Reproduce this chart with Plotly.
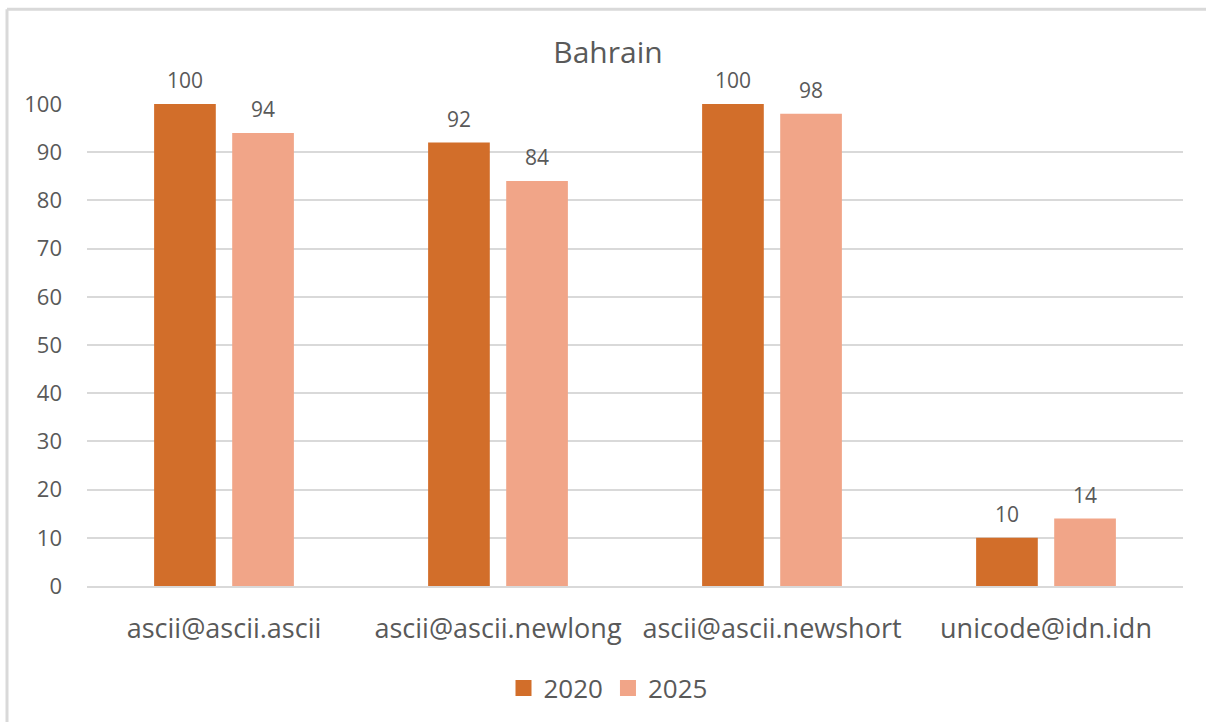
import plotly.graph_objects as go

categories = ["ascii@ascii.ascii", "ascii@ascii.newlong", "ascii@ascii.newshort", "unicode@idn.idn"]
values_2020 = [100, 92, 100, 10]
values_2025 = [94, 84, 98, 14]
series_names = ["2020", "2025"]
y_ticks = [0, 10, 20, 30, 40, 50, 60, 70, 80, 90, 100]

W, H = 1206, 722
M_L, M_R, M_T, M_B = 87, 23, 104, 135
plot_w = W - M_L - M_R
plot_h = H - M_T - M_B

FONT = "Open Sans"
TEXT = "#595959"
GRID = "#D9D9D9"
BAR_OFFSET = 39  # half the distance between the two bars of a group, in px

fig = go.Figure()
series = [
    (series_names[0], values_2020, "#D26E2A", -BAR_OFFSET),
    (series_names[1], values_2025, "#F1A588", BAR_OFFSET),
]
for name, vals, color, shift in series:
    fig.add_trace(go.Bar(
        x=categories, y=vals, name=name, showlegend=False,
        marker=dict(color=color, line=dict(width=0)),
    ))
    # value labels above each bar
    for cat, v in zip(categories, vals):
        fig.add_annotation(x=cat, y=v, xref="x", yref="y", text=str(v),
                           showarrow=False, xshift=shift, yshift=8, yanchor="bottom",
                           font=dict(family=FONT, size=21, color=TEXT))

# legend entries with larger square swatches
for name, _, color, _ in series:
    fig.add_trace(go.Scatter(
        x=[None], y=[None], name=name, mode="markers",
        marker=dict(symbol="square", size=16, color=color),
    ))

def px_x(p):
    return (p - M_L) / plot_w

def px_y(p):
    return (H - M_B - p) / plot_h

# chart-area frame (top and left edges)
fig.add_shape(type="line", xref="paper", yref="paper",
              x0=px_x(7), x1=px_x(W + 5), y0=px_y(9), y1=px_y(9),
              line=dict(color=GRID, width=3))
fig.add_shape(type="line", xref="paper", yref="paper",
              x0=px_x(7), x1=px_x(7), y0=px_y(9), y1=px_y(H + 5),
              line=dict(color=GRID, width=3))

fig.update_layout(
    width=W, height=H,
    margin=dict(l=M_L, r=M_R, t=M_T, b=M_B),
    paper_bgcolor="white", plot_bgcolor="white",
    barmode="group", bargap=0.43, bargroupgap=0.21,
    title=dict(text="Bahrain", x=608 / W, xanchor="center", y=1 - 52 / H, yanchor="middle",
               font=dict(family=FONT, size=30, color=TEXT)),
    legend=dict(orientation="h", x=px_x(608), xanchor="center", y=px_y(688), yanchor="middle",
                font=dict(family=FONT, size=26, color=TEXT), itemwidth=30,
                traceorder="normal"),
    font=dict(family=FONT, color=TEXT),
)
fig.update_xaxes(showgrid=False, showline=True, linecolor=GRID, linewidth=2,
                 tickfont=dict(family=FONT, size=27, color=TEXT),
                 ticks="", ticklabelstandoff=18)
fig.update_yaxes(range=[0, 100], tickvals=y_ticks, showgrid=True, gridcolor=GRID, gridwidth=2,
                 zeroline=False, showline=False, ticks="",
                 tickfont=dict(family=FONT, size=22, color=TEXT), ticklabelstandoff=24)

fig.write_html("out.html")
